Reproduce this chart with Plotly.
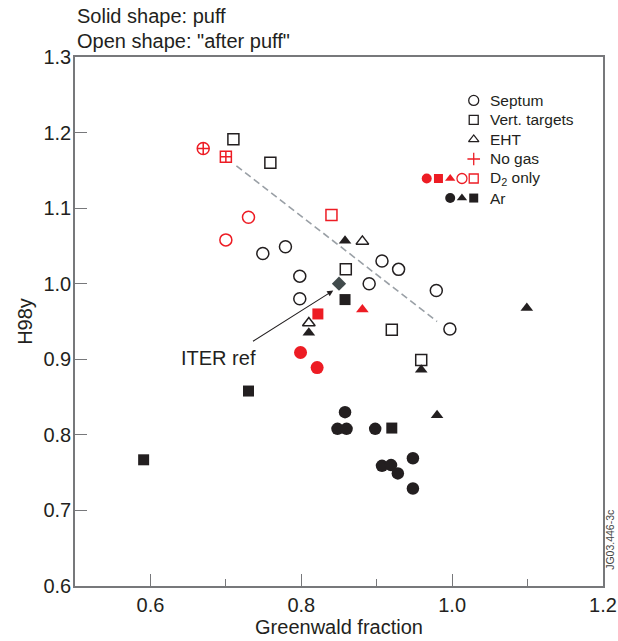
import plotly.graph_objects as go

# ---------------- data (Greenwald fraction, H98y) ----------------
RED = "#ed1c24"
BLK = "#231f20"

nogas_septum_x = [0.670]
nogas_septum_y = [1.179]
nogas_vt_x = [0.700]
nogas_vt_y = [1.168]

d2_open_circ_x = [0.730, 0.700]
d2_open_circ_y = [1.088, 1.058]
d2_open_sq_x = [0.840]
d2_open_sq_y = [1.091]
d2_circ_x = [0.799, 0.821]
d2_circ_y = [0.909, 0.889]
d2_sq_x = [0.822]
d2_sq_y = [0.960]
d2_tri_x = [0.881]
d2_tri_y = [0.966]

ar_open_circ_x = [0.749, 0.779, 0.798, 0.798, 0.890, 0.907, 0.929, 0.979, 0.997]
ar_open_circ_y = [1.040, 1.049, 1.010, 0.980, 1.000, 1.030, 1.019, 0.991, 0.940]
ar_open_sq_x = [0.710, 0.759, 0.859, 0.920, 0.959]
ar_open_sq_y = [1.191, 1.160, 1.019, 0.939, 0.899]
ar_open_tri_x = [0.881, 0.810]
ar_open_tri_y = [1.056, 0.948]
ar_tri_x = [0.858, 0.810, 0.959, 1.099, 0.980]
ar_tri_y = [1.057, 0.935, 0.886, 0.968, 0.826]
ar_sq_x = [0.858, 0.730, 0.591, 0.920]
ar_sq_y = [0.979, 0.858, 0.767, 0.809]
ar_circ_x = [0.858, 0.848, 0.860, 0.898, 0.907, 0.919, 0.928, 0.948, 0.948]
ar_circ_y = [0.830, 0.808, 0.808, 0.808, 0.759, 0.760, 0.749, 0.769, 0.729]

iter_x = [0.85]
iter_y = [1.00]

trend_x = [0.714, 0.980]
trend_y = [1.156, 0.950]

x_ticks = [0.6, 0.8, 1.0, 1.2]
x_tick_text = ["0.6", "0.8", "1.0", "1.2"]
x_minor = [0.7, 0.9, 1.1]
y_ticks = [0.6, 0.7, 0.8, 0.9, 1.0, 1.1, 1.2, 1.3]
y_tick_text = ["0.6", "0.7", "0.8", "0.9", "1.0", "1.1", "1.2", "1.3"]

legend_labels = ["Septum", "Vert. targets", "EHT", "No gas", "D<sub>2</sub> only", "Ar"]

FONT = "Liberation Sans, Arial, sans-serif"
fig = go.Figure()


def add(x, y, symbol, color, size, open_=False, lw=1.5):
    marker = dict(symbol=symbol, color=color, size=size)
    if open_:
        marker["line"] = dict(color=color, width=lw)
    else:
        marker["line"] = dict(width=0)
    fig.add_trace(go.Scatter(x=x, y=y, mode="markers", marker=marker,
                             showlegend=False, hoverinfo="skip", cliponaxis=False))


# trend line
fig.add_trace(go.Scatter(x=trend_x, y=trend_y, mode="lines",
                         line=dict(color="#9aa0a6", width=1.6, dash="7px,4px"),
                         showlegend=False, hoverinfo="skip"))

# open ("after puff") shapes
add(ar_open_circ_x, ar_open_circ_y, "circle-open", BLK, 12, True)
add(ar_open_sq_x, ar_open_sq_y, "square-open", BLK, 11, True)
add(ar_open_tri_x, ar_open_tri_y, "triangle-up-open", BLK, 11, True)
add(d2_open_circ_x, d2_open_circ_y, "circle-open", RED, 12, True)
add(d2_open_sq_x, d2_open_sq_y, "square-open", RED, 11, True)
add(nogas_septum_x, nogas_septum_y, "circle-cross-open", RED, 12, True)
add(nogas_vt_x, nogas_vt_y, "square-cross-open", RED, 11, True)

# solid ("puff") shapes
add(ar_circ_x, ar_circ_y, "circle", BLK, 12.5)
add(ar_sq_x, ar_sq_y, "square", BLK, 11)
add(ar_tri_x, ar_tri_y, "triangle-up", BLK, 11)
add(d2_circ_x, d2_circ_y, "circle", RED, 13)
add(d2_sq_x, d2_sq_y, "square", RED, 11)
add(d2_tri_x, d2_tri_y, "triangle-up", RED, 11)

# ITER reference
add(iter_x, iter_y, "diamond", "#414b4c", 11)

# ---------------- custom legend (in data space) ----------------
lx = 1.0286          # key column
tx = 1.0475          # text column
ly0 = 1.2426         # first row
dy = 0.02585
dx = 0.01558
rows_y = [ly0 - i * dy for i in range(len(legend_labels))]

add([lx], [rows_y[0]], "circle-open", BLK, 10, True, 1.3)
add([lx], [rows_y[1]], "square-open", BLK, 9, True, 1.3)
add([lx], [rows_y[2]], "triangle-up-open", BLK, 9, True, 1.3)
add([lx], [rows_y[3]], "cross-thin-open", RED, 9, True, 1.3)
d2_syms = ["circle", "square", "triangle-up", "circle-open", "square-open"]
for i, s in enumerate(d2_syms):
    add([lx - (4 - i) * dx], [rows_y[4]], s, RED, 10 if "circle" in s else 9,
        "open" in s, 1.3)
ar_syms = ["circle", "triangle-up", "square"]
for i, s in enumerate(ar_syms):
    add([lx - (2 - i) * dx], [rows_y[5]], s, BLK, 10 if s == "circle" else 9)

annotations = []
for lab, yy in zip(legend_labels, rows_y):
    annotations.append(dict(x=tx, y=yy, xref="x", yref="y", text=lab, showarrow=False,
                            xanchor="left", yanchor="middle",
                            font=dict(family=FONT, size=15.5, color=BLK)))

# ITER ref arrow + label
annotations.append(dict(x=0.8424, y=0.991, ax=0.734, ay=0.9227, xref="x", yref="y",
                        axref="x", ayref="y", text="", showarrow=True,
                        arrowhead=2, arrowsize=1.1, arrowwidth=1.1, arrowcolor=BLK))
annotations.append(dict(x=0.690, y=0.9015, xref="x", yref="y", text="ITER ref",
                        showarrow=False, xanchor="center", yanchor="middle",
                        font=dict(family=FONT, size=20, color=BLK)))

# header lines
annotations.append(dict(x=0, y=1.0766, xref="paper", yref="paper",
                        text="Solid shape: puff", showarrow=False,
                        xanchor="left", yanchor="middle",
                        font=dict(family=FONT, size=20, color=BLK)))
annotations.append(dict(x=0, y=1.0303, xref="paper", yref="paper",
                        text='Open shape: "after puff"', showarrow=False,
                        xanchor="left", yanchor="middle",
                        font=dict(family=FONT, size=20, color=BLK)))
# figure id
annotations.append(dict(x=1.013, y=0.087, xref="paper", yref="paper",
                        text="JG03.446-3c", showarrow=False, textangle=-90,
                        xanchor="center", yanchor="middle",
                        font=dict(family=FONT, size=10.5, color="#444444")))

AX = "#77787b"
fig.update_layout(
    width=618, height=641,
    margin=dict(l=75, r=15, t=57, b=55, autoexpand=False),
    paper_bgcolor="white", plot_bgcolor="white",
    font=dict(family=FONT, color=BLK),
    annotations=annotations,
    xaxis=dict(range=[0.5, 1.2], tickvals=x_ticks, ticktext=x_tick_text,
               automargin=False, ticklabeloverflow="allow",
               ticks="inside", ticklen=12, tickwidth=1.3, tickcolor=AX,
               showline=True, linecolor=AX, linewidth=1.5, mirror=True,
               showgrid=False, zeroline=False,
               minor=dict(tickvals=x_minor, ticks="inside", ticklen=7,
                          tickwidth=1.3, tickcolor=AX),
               tickfont=dict(size=20, color=BLK),
               title=dict(text="Greenwald fraction", font=dict(size=20, color=BLK),
                          standoff=4)),
    yaxis=dict(range=[0.6, 1.3], tickvals=y_ticks, ticktext=y_tick_text,
               automargin=False, ticklabelstandoff=-2, ticklabeloverflow="allow",
               ticks="inside", ticklen=12, tickwidth=1.3, tickcolor=AX,
               showline=True, linecolor=AX, linewidth=1.5, mirror=True,
               showgrid=False, zeroline=False,
               tickfont=dict(size=20, color=BLK),
               title=dict(text="H98y", font=dict(size=20, color=BLK), standoff=5)),
)

# make the figure fill the window exactly (no default page margin / scrollbars)
fig.write_html("out.html",
               config={"displayModeBar": False},
               post_script="document.body.style.margin='0';"
                           "document.body.style.overflow='hidden';")
